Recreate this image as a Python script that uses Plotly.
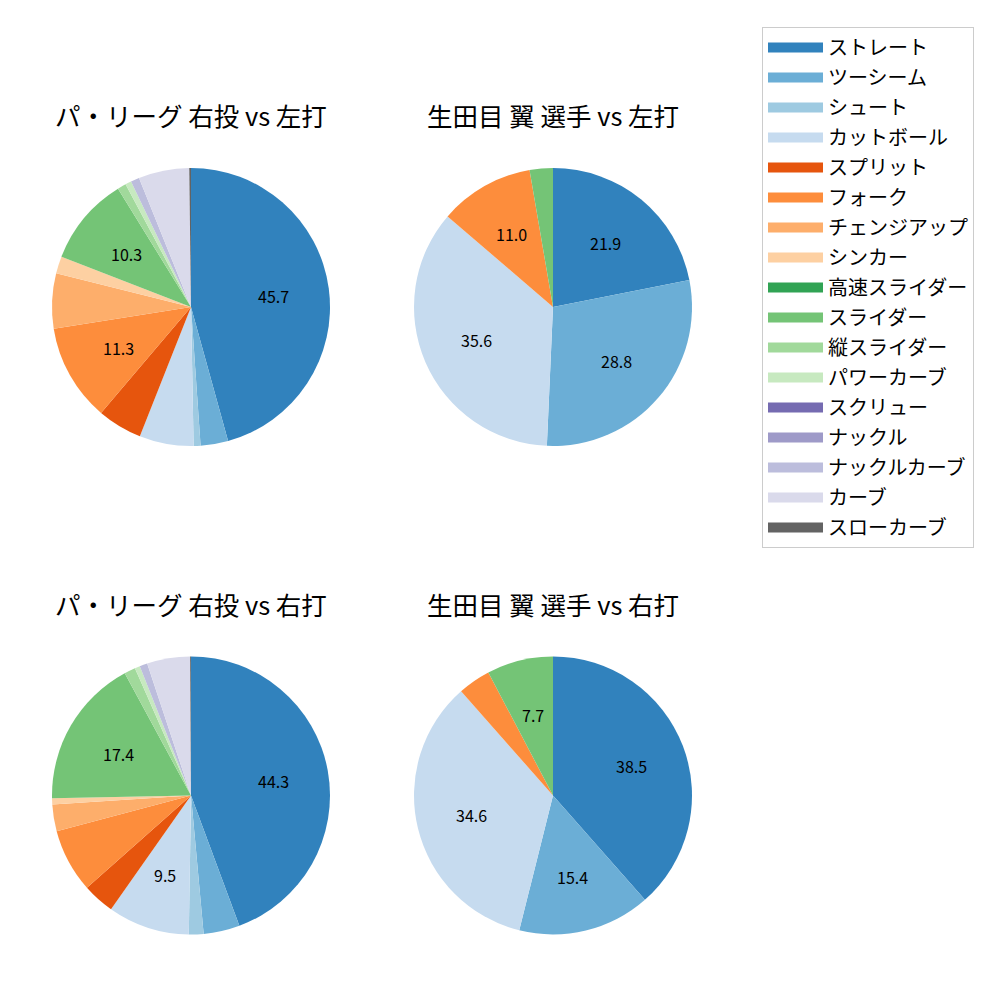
import math
import plotly.graph_objects as go

pitch_types = ["ストレート", "ツーシーム", "シュート", "カットボール", "スプリット", "フォーク",
               "チェンジアップ", "シンカー", "高速スライダー", "スライダー", "縦スライダー",
               "パワーカーブ", "スクリュー", "ナックル", "ナックルカーブ", "カーブ", "スローカーブ"]
colors = ["#3182bd", "#6baed6", "#9ecae1", "#c6dbef", "#e6550d", "#fd8d3c", "#fdae6b", "#fdd0a2",
          "#31a354", "#74c476", "#a1d99b", "#c7e9c0", "#756bb1", "#9e9ac8", "#bcbddc", "#dadaeb",
          "#636363"]

league_vs_left = [45.7, 3.2, 0.8, 6.3, 5.2, 11.3, 6.4, 2.0, 0.0, 10.3, 1.0, 0.7, 0.0, 0.0, 1.0, 5.9, 0.2]
player_vs_left = [21.9, 28.8, 0.0, 35.6, 0.0, 11.0, 0.0, 0.0, 0.0, 2.7, 0.0, 0.0, 0.0, 0.0, 0.0, 0.0, 0.0]
league_vs_right = [44.3, 4.2, 1.7, 9.5, 3.7, 7.4, 3.1, 0.7, 0.0, 17.4, 1.3, 0.6, 0.0, 0.0, 0.9, 5.0, 0.1]
player_vs_right = [38.5, 15.4, 0.0, 34.6, 0.0, 3.8, 0.0, 0.0, 0.0, 7.7, 0.0, 0.0, 0.0, 0.0, 0.0, 0.0, 0.0]

titles = ["パ・リーグ 右投 vs 左打", "生田目 翼 選手 vs 左打", "パ・リーグ 右投 vs 右打", "生田目 翼 選手 vs 右打"]
series = [league_vs_left, player_vs_left, league_vs_right, player_vs_right]

# pie centres (paper fraction) and radius
centers = [(0.191, 0.693), (0.553, 0.693), (0.191, 0.2045), (0.553, 0.2045)]
radius = 0.139
label_threshold = 7.5

FONT = "Noto Sans CJK JP"
fig = go.Figure()
annotations = []
for vals, title, (cx, cy) in zip(series, titles, centers):
    fig.add_trace(go.Pie(
        labels=pitch_types, values=vals, sort=False, direction="clockwise", rotation=0,
        marker=dict(colors=colors, line=dict(width=0)),
        textinfo="none", hoverinfo="label+percent",
        domain=dict(x=[cx - radius, cx + radius], y=[cy - radius, cy + radius]),
        showlegend=False,
    ))
    total = sum(vals)
    cum = 0.0
    for v in vals:
        if v > 0 and v / total * 100 >= label_threshold:
            mid = (cum + v / 2) / total * 2 * math.pi
            annotations.append(dict(
                x=cx + 0.6 * radius * math.sin(mid), y=cy + 0.6 * radius * math.cos(mid),
                xref="paper", yref="paper", text=f"{v / total * 100:.1f}", showarrow=False,
                font=dict(family=FONT, size=16, color="black"), xanchor="center", yanchor="middle"))
        cum += v
    annotations.append(dict(
        x=cx, y=cy + radius + 0.053, xref="paper", yref="paper", text=title, showarrow=False,
        font=dict(family=FONT, size=25.5, color="black"), xanchor="center", yanchor="middle"))

# legend entries (one per pitch type, same colours as the slices)
for name, col in zip(pitch_types, colors):
    fig.add_trace(go.Scatter(
        x=[None], y=[None], mode="lines", name=name, legendgroup=name,
        line=dict(color=col, width=14), showlegend=True, hoverinfo="skip"))

fig.update_layout(
    width=1000, height=1000, margin=dict(l=0, r=0, t=0, b=0),
    paper_bgcolor="white", plot_bgcolor="white",
    annotations=annotations,
    xaxis=dict(visible=False), yaxis=dict(visible=False),
    legend=dict(x=0.762, y=0.973, xanchor="left", yanchor="top",
                font=dict(family=FONT, size=20, color="black"),
                bordercolor="#cccccc", borderwidth=1, bgcolor="white",
                traceorder="grouped", tracegroupgap=1, itemwidth=55,
                entrywidth=160),
    font=dict(family=FONT),
)
fig.write_html("out.html")
